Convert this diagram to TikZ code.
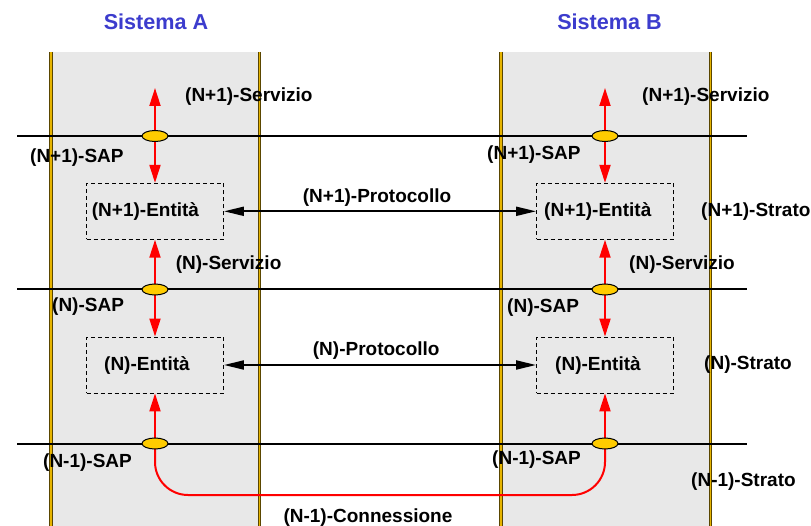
\documentclass[tikz,border=0pt]{standalone}
\usepackage{fontspec}
\setmainfont{Liberation Sans}
\usetikzlibrary{arrows.meta,shapes.geometric}
\definecolor{panelgray}{RGB}{232,232,232}
\definecolor{sapgold}{RGB}{255,204,0}
\definecolor{railgold}{RGB}{230,180,0}
\definecolor{railedge}{RGB}{90,70,0}
\definecolor{titleblue}{RGB}{60,60,205}
\pgfdeclarelayer{back}
\pgfdeclarelayer{flows}
\pgfsetlayers{back,flows,main}
\tikzset{
  redhead/.tip={Triangle[length=18pt,width=11pt]},
  blackhead/.tip={Triangle[length=20pt,width=9pt]}
}
\begin{document}
\begin{tikzpicture}[x=1pt,y=-1pt,
  lbl/.style={font=\fontsize{19}{21}\selectfont\bfseries, inner sep=0pt, anchor=west},
  entlbl/.style={font=\fontsize{19}{21}\selectfont\bfseries, inner sep=0pt, anchor=west},
  title/.style={font=\fontsize{21.6}{24}\selectfont\bfseries, text=titleblue, inner sep=0pt},
  entbox/.style={draw=black, dash pattern=on 4pt off 3pt, line width=0.9pt,
    minimum width=137pt, minimum height=56pt, inner sep=0pt},
  sap/.style={ellipse, draw=black, line width=1pt, fill=sapgold,
    minimum width=26pt, minimum height=11pt, inner sep=0pt},
  rail/.style={draw=railedge, line width=3.2pt, postaction={draw=railgold, line width=1.6pt}},
  layerline/.style={draw=black, line width=2pt},
  flow/.style={draw=red, line width=2pt},
  proto/.style={draw=black, line width=2pt, blackhead-blackhead}
]
\useasboundingbox (0,0) rectangle (811,526);

% service access points
\node[sap] (sapA1) at (155,136) {};
\node[sap] (sapA2) at (155,289.5) {};
\node[sap] (sapA3) at (155,443.5) {};
\node[sap] (sapB1) at (605,136) {};
\node[sap] (sapB2) at (605,289.5) {};
\node[sap] (sapB3) at (605,443.5) {};

% entity boxes
\node[entbox] (entA1) at (155,211.3) {};
\node[entbox] (entA0) at (155,365) {};
\node[entbox] (entB1) at (605,211.3) {};
\node[entbox] (entB0) at (605,365) {};

% free ends of the service arrows and the connection path
\coordinate (topA) at (155,88);
\coordinate (topB) at (605,88);
\coordinate (conn) at (380,495);

% layer boundaries
\coordinate (l1w) at (17,136);   \coordinate (l1e) at (747,136);
\coordinate (l2w) at (17,289.5); \coordinate (l2e) at (747,289.5);
\coordinate (l3w) at (17,443.5); \coordinate (l3e) at (747,443.5);

\begin{pgfonlayer}{back}
  \fill[panelgray] (51,52) rectangle (259.5,526);
  \fill[panelgray] (501,52) rectangle (710.5,526);
  \path[rail] (51,52) -- (51,526);
  \path[rail] (259.5,52) -- (259.5,526);
  \path[rail] (501,52) -- (501,526);
  \path[rail] (710.5,52) -- (710.5,526);
  \path[layerline] (l1w) -- (l1e);
  \path[layerline] (l2w) -- (l2e);
  \path[layerline] (l3w) -- (l3e);
\end{pgfonlayer}

\begin{pgfonlayer}{flows}
  \path[flow, redhead-redhead] (topA) -- (entA1.north);
  \path[flow, redhead-redhead] (entA1.south) -- (entA0.north);
  \path[flow, -redhead] (sapA3.center) -- (entA0.south);
  \path[flow, redhead-redhead] (topB) -- (entB1.north);
  \path[flow, redhead-redhead] (entB1.south) -- (entB0.north);
  \path[flow, -redhead] (sapB3.center) -- (entB0.south);
  \path[flow, rounded corners=33pt] (sapA3.center) |- (conn) -| (sapB3.center);
\end{pgfonlayer}

% peer protocols
\draw[proto] (entA1.east) -- (entB1.west);
\draw[proto] (entA0.east) -- (entB0.west);

% titles
\node[title] (tA) at (156,22) {Sistema A};
\node[title] (tB) at (609.5,22) {Sistema B};

% labels, system A
\node[lbl] (svA1) at (185,97) {(N+1)-Servizio};
\node[lbl] (spA1) at (30,158) {(N+1)-SAP};
\node[entlbl] (enA1) at (91.7,212) {(N+1)-Entità};
\node[lbl] (svA2) at (175.6,265) {(N)-Servizio};
\node[lbl] (spA2) at (52,307) {(N)-SAP};
\node[lbl] (enA0) at (104,366) {(N)-Entità};
\node[lbl] (spA3) at (43,463) {(N-1)-SAP};

% labels, system B
\node[lbl] (svB1) at (642,97) {(N+1)-Servizio};
\node[lbl] (spB1) at (487,155) {(N+1)-SAP};
\node[entlbl] (enB1) at (544,212) {(N+1)-Entità};
\node[lbl] (svB2) at (629,265) {(N)-Servizio};
\node[lbl] (spB2) at (507,308) {(N)-SAP};
\node[lbl] (enB0) at (555,366) {(N)-Entità};
\node[lbl] (spB3) at (492,460) {(N-1)-SAP};

% layer names
\node[lbl] (st1) at (701,212) {(N+1)-Strato};
\node[lbl] (st0) at (704,365) {(N)-Strato};
\node[lbl] (stm) at (691,482) {(N-1)-Strato};

% protocol and connection names
\node[lbl] (pr1) at (302.7,197.3) {(N+1)-Protocollo};
\node[lbl] (pr0) at (312.7,350.7) {(N)-Protocollo};
\node[lbl] (cn) at (283.3,518) {(N-1)-Connessione};
\end{tikzpicture}
\end{document}
